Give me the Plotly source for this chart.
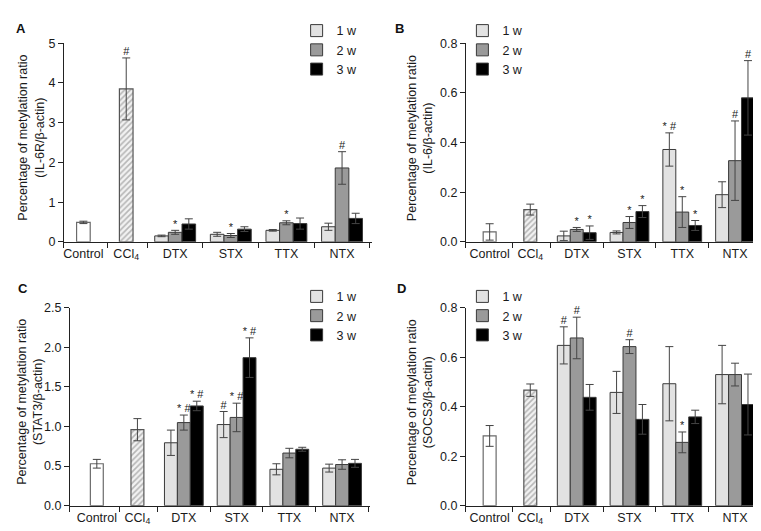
import plotly.graph_objects as go

W, H = 761, 531
FONT = "Liberation Sans, Arial, sans-serif"

categories = ["Control", "CCl<sub>4</sub>", "DTX", "STX", "TTX", "NTX"]
weeks = ["1 w", "2 w", "3 w"]

# ---------------- Panel A : IL-6R ----------------
a_control, a_control_err = 0.49, 0.03
a_ccl4, a_ccl4_err = 3.85, 0.78
a_ccl4_sig = "#"
a_1w = [0.15, 0.19, 0.29, 0.38]
a_1w_err = [0.02, 0.05, 0.02, 0.09]
a_2w = [0.24, 0.16, 0.48, 1.86]
a_2w_err = [0.05, 0.05, 0.05, 0.41]
a_3w = [0.45, 0.32, 0.46, 0.59]
a_3w_err = [0.13, 0.06, 0.14, 0.13]
a_1w_sig = ["", "", "", ""]
a_2w_sig = ["*", "*", "*", "#"]
a_3w_sig = ["", "", "", ""]
a_yticks = [0, 1, 2, 3, 4, 5]
a_title = "Percentage of metylation ratio<br>(IL-6R/β-actin)"

# ---------------- Panel B : IL-6 ----------------
b_control, b_control_err = 0.04, 0.033
b_ccl4, b_ccl4_err = 0.13, 0.022
b_ccl4_sig = ""
b_1w = [0.024, 0.038, 0.372, 0.19]
b_1w_err = [0.019, 0.006, 0.067, 0.052]
b_2w = [0.05, 0.078, 0.12, 0.327]
b_2w_err = [0.008, 0.024, 0.062, 0.16]
b_3w = [0.037, 0.122, 0.066, 0.58]
b_3w_err = [0.027, 0.024, 0.02, 0.15]
b_1w_sig = ["", "", "* #", ""]
b_2w_sig = ["*", "*", "*", "#"]
b_3w_sig = ["*", "*", "*", "#"]
b_yticks = [0.0, 0.2, 0.4, 0.6, 0.8]
b_title = "Percentage of metylation ratio<br>(IL-6/β-actin)"

# ---------------- Panel C : STAT3 ----------------
c_control, c_control_err = 0.53, 0.055
c_ccl4, c_ccl4_err = 0.96, 0.14
c_ccl4_sig = ""
c_1w = [0.795, 1.025, 0.46, 0.475]
c_1w_err = [0.16, 0.165, 0.07, 0.05]
c_2w = [1.05, 1.115, 0.665, 0.52]
c_2w_err = [0.095, 0.18, 0.06, 0.06]
c_3w = [1.26, 1.87, 0.713, 0.535]
c_3w_err = [0.06, 0.25, 0.025, 0.05]
c_1w_sig = ["", "#", "", ""]
c_2w_sig = ["* #", "* #", "", ""]
c_3w_sig = ["* #", "* #", "", ""]
c_yticks = [0.0, 0.5, 1.0, 1.5, 2.0, 2.5]
c_title = "Percentage of metylation ratio<br>(STAT3/β-actin)"

# ---------------- Panel D : SOCS3 ----------------
d_control, d_control_err = 0.282, 0.042
d_ccl4, d_ccl4_err = 0.467, 0.025
d_ccl4_sig = ""
d_1w = [0.648, 0.458, 0.493, 0.53]
d_1w_err = [0.075, 0.085, 0.15, 0.118]
d_2w = [0.678, 0.643, 0.256, 0.53]
d_2w_err = [0.084, 0.028, 0.042, 0.046]
d_3w = [0.438, 0.349, 0.359, 0.409]
d_3w_err = [0.052, 0.06, 0.027, 0.123]
d_1w_sig = ["#", "", "", ""]
d_2w_sig = ["#", "#", "*", ""]
d_3w_sig = ["", "", "", ""]
d_yticks = [0.0, 0.2, 0.4, 0.6, 0.8]
d_title = "Percentage of metylation ratio<br>(SOCS3/β-actin)"

# ---------------- layout constants ----------------
CAT_POS = [0.35, 1.12, 2, 3, 4, 5]          # category centres on x axis
SEPARATORS = [0.78, 1.5, 2.5, 3.5, 4.5, 5.5]
BAR_W = 0.245
WEEK_COLORS = ["#e2e2e2", "#9a9a9a", "#000000"]
OUTLINE = "#3a3a3a"

panels = [
    dict(letter="A", control=a_control, control_err=a_control_err, ccl4=a_ccl4, ccl4_err=a_ccl4_err,
         ccl4_sig=a_ccl4_sig, w=[a_1w, a_2w, a_3w], we=[a_1w_err, a_2w_err, a_3w_err],
         ws=[a_1w_sig, a_2w_sig, a_3w_sig], yticks=a_yticks, fmt="d", title=a_title,
         px=(55, 363), py=(29, 233), xstart=0.0, legx=288, legy=1, tx=22, lx=5, ly=14),
    dict(letter="B", control=b_control, control_err=b_control_err, ccl4=b_ccl4, ccl4_err=b_ccl4_err,
         ccl4_sig=b_ccl4_sig, w=[b_1w, b_2w, b_3w], we=[b_1w_err, b_2w_err, b_3w_err],
         ws=[b_1w_sig, b_2w_sig, b_3w_sig], yticks=b_yticks, fmt=".1f", title=b_title,
         px=(457.5, 755), py=(29, 233), xstart=-0.1, legx=454, legy=1, tx=411, lx=385, ly=14),
    dict(letter="C", control=c_control, control_err=c_control_err, ccl4=c_ccl4, ccl4_err=c_ccl4_err,
         ccl4_sig=c_ccl4_sig, w=[c_1w, c_2w, c_3w], we=[c_1w_err, c_2w_err, c_3w_err],
         ws=[c_1w_sig, c_2w_sig, c_3w_sig], yticks=c_yticks, fmt=".1f", title=c_title,
         px=(61, 361.5), py=(300.7, 504), xstart=-0.16, legx=288, legy=274, tx=21, lx=7, ly=281),
    dict(letter="D", control=d_control, control_err=d_control_err, ccl4=d_ccl4, ccl4_err=d_ccl4_err,
         ccl4_sig=d_ccl4_sig, w=[d_1w, d_2w, d_3w], we=[d_1w_err, d_2w_err, d_3w_err],
         ws=[d_1w_sig, d_2w_sig, d_3w_sig], yticks=d_yticks, fmt=".1f", title=d_title,
         px=(457.5, 755), py=(300.7, 504), xstart=-0.1, legx=454, legy=274, tx=411, lx=387, ly=281),
]

fig = go.Figure()
layout = dict(
    width=W, height=H, autosize=False,
    margin=dict(l=0, r=0, t=0, b=0),
    paper_bgcolor="white", plot_bgcolor="white",
    font=dict(family=FONT, size=12, color="#1a1a1a"),
    barmode="overlay", showlegend=True,
    annotations=[],
)

def err(v):
    return dict(type="data", array=[v] if not isinstance(v, list) else v, visible=True,
                color="#444444", thickness=1, width=4)

for i, p in enumerate(panels):
    n = "" if i == 0 else str(i + 1)
    xa, ya = "x" + n, "y" + n
    leg = "legend" + n

    # Control
    fig.add_trace(go.Bar(x=[CAT_POS[0]], y=[p["control"]], width=BAR_W, xaxis=xa, yaxis=ya,
                         marker=dict(color="white", line=dict(color="#6a6a6a", width=1.2)),
                         error_y=err(p["control_err"]), showlegend=False, hoverinfo="skip"))
    # CCl4 (hatched)
    fig.add_trace(go.Bar(x=[CAT_POS[1]], y=[p["ccl4"]], width=BAR_W, xaxis=xa, yaxis=ya,
                         marker=dict(color="white", line=dict(color="#555555", width=1.2),
                                     pattern=dict(shape="/", fgcolor="#7a7a7a", bgcolor="#f2f2f2",
                                                  size=4, solidity=0.4)),
                         error_y=err(p["ccl4_err"]), showlegend=False, hoverinfo="skip"))
    # weeks
    for k in range(3):
        xs = [g + (k - 1) * BAR_W for g in CAT_POS[2:]]
        fig.add_trace(go.Bar(x=xs, y=p["w"][k], width=BAR_W, name=weeks[k], xaxis=xa, yaxis=ya,
                             marker=dict(color=WEEK_COLORS[k], line=dict(color=OUTLINE, width=1)),
                             error_y=err(p["we"][k]), legend=leg, showlegend=True, hoverinfo="skip"))
    # significance markers
    sx, sy, st = [], [], []
    if p["ccl4_sig"]:
        sx.append(CAT_POS[1]); sy.append(p["ccl4"] + p["ccl4_err"]); st.append(p["ccl4_sig"])
    for k in range(3):
        for j, g in enumerate(CAT_POS[2:]):
            if p["ws"][k][j]:
                sx.append(g + (k - 1) * BAR_W)
                sy.append(p["w"][k][j] + p["we"][k][j])
                st.append(p["ws"][k][j])
    fig.add_trace(go.Scatter(x=sx, y=sy, text=st, mode="text", textposition="top center",
                             textfont=dict(size=11, color="#222222", family=FONT),
                             xaxis=xa, yaxis=ya, showlegend=False, hoverinfo="skip", cliponaxis=False))

    x0, x1 = p["px"]
    y0, y1 = p["py"]
    layout["xaxis" + n] = dict(
        domain=[x0 / W, x1 / W], anchor=ya, range=[p["xstart"], 5.53],
        tickmode="array", tickvals=CAT_POS, ticktext=categories, ticks="",
        showline=True, linecolor="#222222", linewidth=1, showgrid=False, zeroline=False,
        tickfont=dict(size=12.5, family=FONT, color="#1a1a1a"),
        minor=dict(tickmode="array", tickvals=[p["xstart"]] + SEPARATORS, ticks="outside",
                   ticklen=5, tickwidth=1, tickcolor="#222222", showgrid=False),
        fixedrange=True,
    )
    layout["yaxis" + n] = dict(
        domain=[1 - y1 / H, 1 - y0 / H], anchor=xa, range=[0, p["yticks"][-1]],
        tickmode="array", tickvals=p["yticks"], tickformat=p["fmt"], ticks="outside", ticklen=5,
        tickwidth=1, tickcolor="#222222", showline=True, linecolor="#222222", linewidth=1,
        showgrid=False, zeroline=False, tickfont=dict(size=12.5, family=FONT, color="#1a1a1a"),
        fixedrange=True,
    )
    layout[leg] = dict(x=p["legx"] / W, y=1 - p["legy"] / H, xanchor="left", yanchor="top",
                       bgcolor="rgba(0,0,0,0)", font=dict(size=12.5, family=FONT, color="#1a1a1a"),
                       tracegroupgap=0, itemwidth=30)
    # axis title (rotated)
    layout["annotations"].append(dict(
        text=p["title"], textangle=-90, xref="paper", yref="paper",
        x=p["tx"] / W, y=1 - ((y0 + y1) / 2 - 5) / H, xanchor="center", yanchor="middle",
        showarrow=False, font=dict(size=12.5, family=FONT, color="#1a1a1a")))
    # panel letter
    layout["annotations"].append(dict(
        text="<b>" + p["letter"] + "</b>", xref="paper", yref="paper",
        x=p["lx"] / W, y=1 - p["ly"] / H, xanchor="left", yanchor="middle",
        showarrow=False, font=dict(size=13, family=FONT, color="#111111")))

fig.update_layout(**layout)
fig.write_html("out.html")
